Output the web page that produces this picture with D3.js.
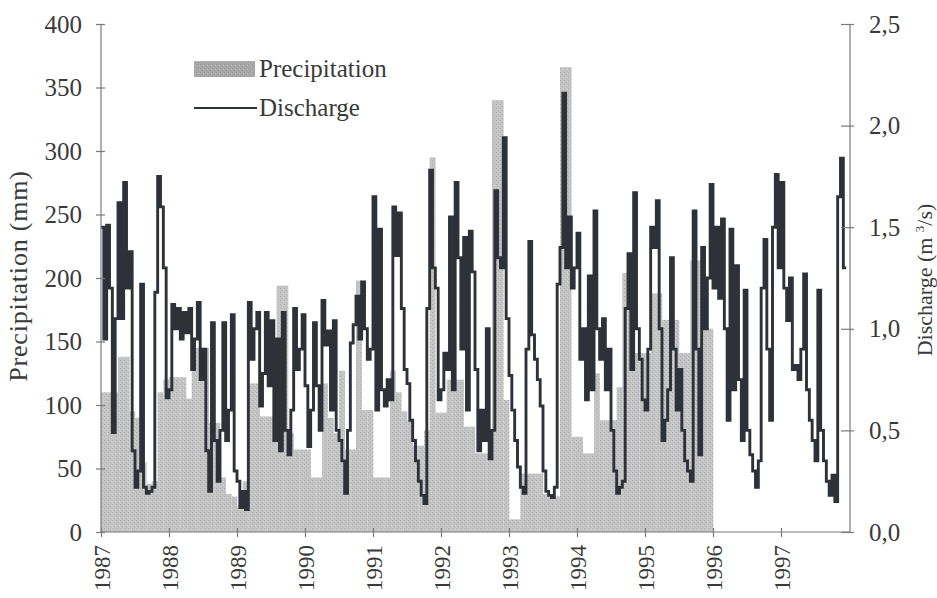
<!DOCTYPE html>
<html><head><meta charset="utf-8">
<script src="https://cdnjs.cloudflare.com/ajax/libs/d3/7.8.5/d3.min.js"></script>
<style>
html,body{margin:0;padding:0;background:#fff;}
svg text{font-family:"Liberation Serif","Times New Roman","DejaVu Serif",serif;fill:#3a3a3a;}
</style></head>
<body><svg id="c" width="937" height="598"></svg>
<script>
// Monthly precipitation (mm), Jan..Dec
const precip1987 = [110,110,110,138,138,95,90,55,38,40,110,120];
const precip1988 = [122,122,122,105,145,145,145,86,86,43,30,28];
const precip1989 = [20,40,117,117,91,91,91,194,194,78,65,65];
const precip1990 = [65,43,43,117,90,78,127,65,65,198,96,96];
const precip1991 = [43,43,43,127,110,95,88,68,68,80,295,94];
const precip1992 = [94,120,120,120,83,83,62,62,62,340,340,104];
const precip1993 = [10,10,46,46,46,46,30,30,28,366,366,75];
const precip1994 = [75,62,62,125,88,88,88,114,204,204,141,141];
const precip1995 = [141,188,188,167,167,167,141,141,214,214,160,160];
const precipYears = [1987,1988,1989,1990,1991,1992,1993,1994,1995];
const precipByYear = [precip1987,precip1988,precip1989,precip1990,precip1991,precip1992,precip1993,precip1994,precip1995];

// Discharge (m3/s), half-monthly values
const q1987 = [1.50,0.95,1.51,1.20,0.49,1.05,1.62,1.05,1.72,1.20,1.38,0.40,0.22,0.30,1.22,0.22,0.19,0.20,0.22,1.18,1.75,1.60,1.30,0.66];
const q1988 = [0.70,1.12,1.00,1.10,0.95,1.08,0.98,1.10,0.80,0.95,1.13,0.75,0.90,0.40,0.20,1.03,0.45,0.25,0.50,1.03,0.45,0.60,1.07,0.30];
const q1989 = [0.25,0.12,0.20,0.11,1.13,0.85,1.00,1.08,0.62,0.78,1.08,0.72,1.04,0.45,0.95,0.40,1.08,0.50,0.38,0.60,1.10,0.80,0.90,1.07];
const q1990 = [0.72,0.42,0.60,1.03,0.72,0.50,1.14,0.92,0.99,0.60,1.04,0.50,0.45,0.35,0.19,0.50,0.93,1.02,1.16,0.95,1.23,1.00,0.85,0.90];
const q1991 = [1.65,0.60,1.49,0.70,0.62,0.75,0.65,1.60,1.36,1.57,1.10,0.80,0.73,0.55,0.45,0.35,0.25,0.18,0.14,1.10,1.78,1.30,1.20,0.65];
const q1992 = [0.70,0.88,0.80,1.55,0.70,1.72,1.35,0.90,1.45,0.60,1.48,1.28,0.80,0.40,0.60,0.45,1.00,0.36,0.50,1.68,1.35,1.30,1.94,1.05];
const q1993 = [0.77,0.60,0.45,0.32,0.22,0.19,0.90,1.43,0.97,0.85,0.75,0.62,0.30,0.20,0.18,0.17,0.22,1.22,1.40,2.16,1.30,1.55,1.20,1.30];
const q1994 = [1.47,0.85,1.00,0.65,1.26,0.70,1.58,1.00,0.85,1.05,0.70,0.90,0.50,0.30,0.19,0.22,0.25,1.10,1.37,0.80,1.67,1.00,0.85,0.65];
const q1995 = [0.60,0.90,1.50,1.40,1.63,1.00,0.45,0.55,0.70,1.35,0.90,0.60,0.80,0.50,0.35,0.30,0.25,1.58,0.90,0.38,1.40,1.00,1.25,1.71];
const q1996 = [1.20,1.50,1.15,1.54,1.00,0.55,1.49,0.70,1.31,0.75,0.45,1.19,0.50,0.38,0.30,0.22,0.35,1.20,1.44,0.90,0.55,1.50,1.76,1.30];
const q1997 = [1.72,1.20,1.04,1.25,0.80,0.82,0.75,0.90,1.27,0.70,0.55,0.45,0.35,1.19,0.50,0.35,0.25,0.18,0.28,0.15,1.65,1.84,1.30];
const qYears = [1987,1988,1989,1990,1991,1992,1993,1994,1995,1996,1997];
const qByYear = [q1987,q1988,q1989,q1990,q1991,q1992,q1993,q1994,q1995,q1996,q1997];

const yearTicks = [1987,1988,1989,1990,1991,1992,1993,1994,1995,1996,1997];
const leftTicks = [0,50,100,150,200,250,300,350,400];
const rightTicks = [0,0.5,1.0,1.5,2.0,2.5];
const rightTickLabels = ["0,0","0,5","1,0","1,5","2,0","2,5"];

const svg = d3.select("#c");
const x = d3.scaleLinear().domain([1987,1998]).range([101,849]);
const yL = d3.scaleLinear().domain([0,400]).range([532,24]);
const yR = d3.scaleLinear().domain([0,2.5]).range([532,24]);

// texture patterns
const defs = svg.append("defs");
function stipple(id, base, d1, d2, light){
  const p = defs.append("pattern").attr("id",id).attr("width",4).attr("height",4).attr("patternUnits","userSpaceOnUse");
  p.append("rect").attr("width",4).attr("height",4).attr("fill",base);
  p.append("rect").attr("x",0).attr("y",0).attr("width",1).attr("height",1).attr("fill",d1);
  p.append("rect").attr("x",2).attr("y",2).attr("width",1).attr("height",1).attr("fill",d2);
  p.append("rect").attr("x",3).attr("y",1).attr("width",1).attr("height",1).attr("fill",light);
}
stipple("stip","#c4c4c4","#afafaf","#b5b5b5","#d3d3d3");
stipple("stipL","#a9a9a9","#959595","#9a9a9a","#bcbcbc");

const pdata = [];
precipYears.forEach((yr,i)=>precipByYear[i].forEach((v,m)=>pdata.push({t:yr+m/12,v})));
svg.append("g").selectAll("rect").data(pdata).join("rect")
  .attr("x",d=>x(d.t)).attr("width",d=>x(d.t+1/12)-x(d.t)+0.3)
  .attr("y",d=>yL(d.v)).attr("height",d=>yL(0)-yL(d.v))
  .attr("fill","url(#stip)");

const qdata = [];
qYears.forEach((yr,i)=>qByYear[i].forEach((v,k)=>qdata.push({t:yr+k/24,v})));
const last = qdata[qdata.length-1];
qdata.push({t:last.t+1/24,v:last.v});
svg.append("path").datum(qdata)
  .attr("d",d3.line().x(d=>x(d.t)).y(d=>yR(d.v)).curve(d3.curveStepAfter))
  .attr("fill","none").attr("stroke","#2f3139").attr("stroke-width",2.9);

// axes
const axCol = "#7a7a7a";
const gL = svg.append("g").attr("transform","translate(101,0)")
  .call(d3.axisLeft(yL).tickValues(leftTicks).tickSize(5).tickPadding(14).tickFormat(d3.format("d")));
const gR = svg.append("g").attr("transform","translate(850,0)")
  .call(d3.axisRight(yR).tickValues(rightTicks).tickSize(5).tickPadding(14).tickFormat((d,i)=>rightTickLabels[i]));
const gB = svg.append("g").attr("transform","translate(0,532)")
  .call(d3.axisBottom(x).tickValues(yearTicks).tickSize(4).tickPadding(10).tickFormat(d3.format("d")));
[gL,gR,gB].forEach(g=>{
  g.select(".domain").attr("stroke",axCol).attr("stroke-width",1.2);
  g.selectAll(".tick line").attr("stroke",axCol).attr("stroke-width",1.2);
  g.selectAll("text").attr("fill","#3a3a3a").style("font-family","Liberation Serif, Times New Roman, serif").style("font-size","25px");
});
gL.selectAll(".tick line").attr("x1",4);
gR.selectAll(".tick line").attr("x1",-9).attr("x2",4);
gB.selectAll(".tick line").attr("y1",-4).attr("y2",5);
gB.select(".domain").attr("d","M101,0H850");
gL.select(".domain").attr("d","M0,532V24");
gR.select(".domain").attr("d","M0,532V24");
gB.selectAll("text").style("font-size","23px")
  .attr("transform","rotate(-90)").attr("text-anchor","end")
  .attr("x",-13).attr("y",0).attr("dy","0.35em");

// titles
svg.append("text").attr("transform","translate(27,276) rotate(-90)").attr("text-anchor","middle")
  .style("font-size","26px").style("letter-spacing","0.8px").text("Precipitation (mm)");
const rt = svg.append("text").attr("transform","translate(932,280) rotate(-90)").attr("text-anchor","middle")
  .style("font-size","22px");
rt.append("tspan").text("Discharge (m ");
rt.append("tspan").attr("dy",-8).style("font-size","13px").text("3");
rt.append("tspan").attr("dy",8).text("/s)");

// legend
svg.append("rect").attr("x",194).attr("y",61).attr("width",61).attr("height",16).attr("fill","url(#stipL)");
svg.append("text").attr("x",259).attr("y",77).style("font-size","25px").text("Precipitation");
svg.append("line").attr("x1",194).attr("x2",257).attr("y1",108).attr("y2",108).attr("stroke","#2f3139").attr("stroke-width",1.8);
svg.append("text").attr("x",259).attr("y",116).style("font-size","25px").text("Discharge");
</script></body></html>
